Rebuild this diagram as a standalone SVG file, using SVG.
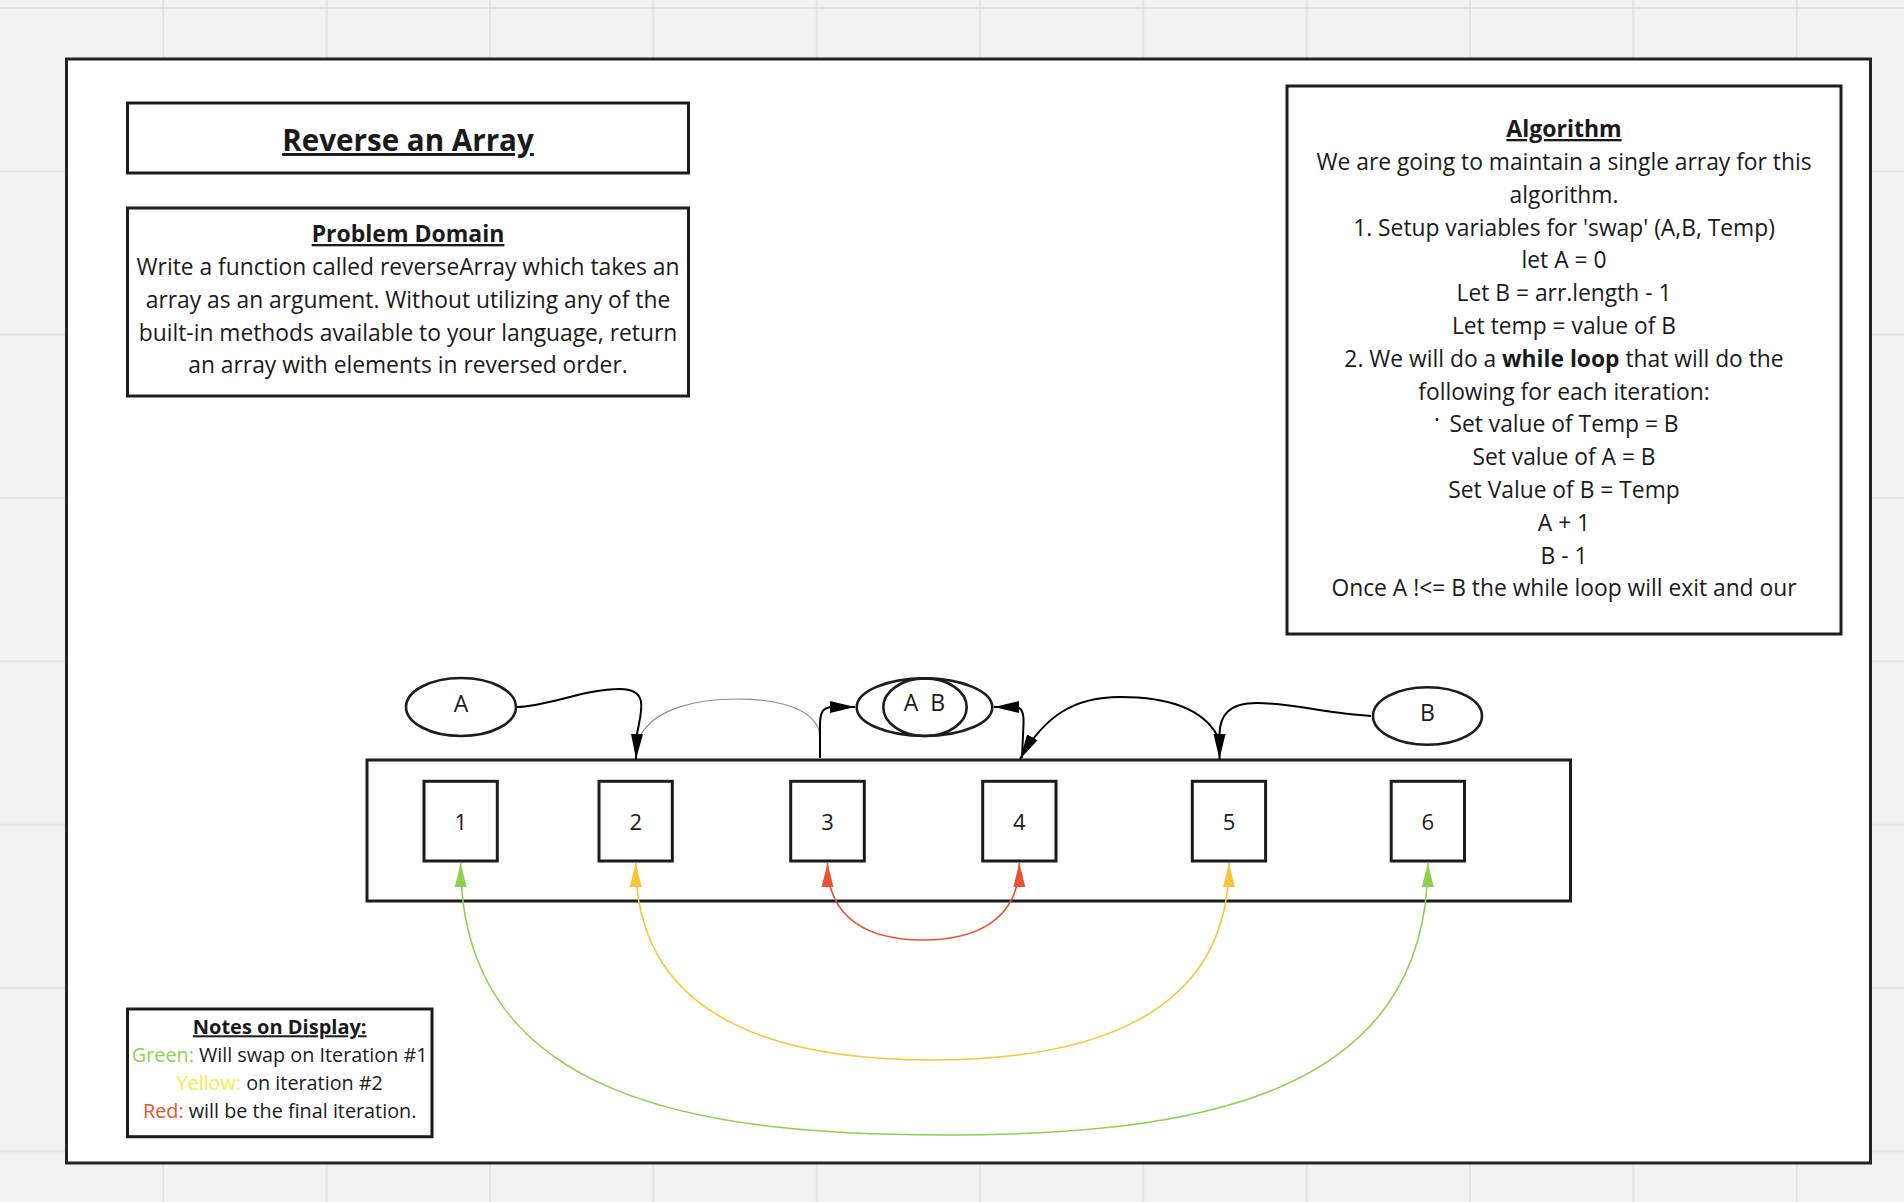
<svg xmlns="http://www.w3.org/2000/svg" width="1904" height="1202" viewBox="0 0 1904 1202">
  <style>
    .bg { fill: #f2f2f2; }
    .grid { stroke: #e3e3e3; stroke-width: 2; fill: none; }
    .frame { fill: #ffffff; stroke: #222222; stroke-width: 3; }
    .box { fill: #ffffff; stroke: #1c1c1c; stroke-width: 3; }
    .oval { fill: #ffffff; stroke: #1c1c1c; stroke-width: 2.6; }
    .oval-in { fill: none; stroke: #1c1c1c; stroke-width: 2.6; }
    .t { font-family: "Open Sans", "Liberation Sans", sans-serif; fill: #1a1a1a; text-anchor: middle; }
    .body { font-size: 22.8px; }
    .head { font-size: 23px; font-weight: 700; text-decoration: underline; }
    .title { font-size: 29.6px; font-weight: 700; text-decoration: underline; }
    .note { font-size: 19.8px; }
    .note-head { font-size: 20px; font-weight: 700; text-decoration: underline; }
    .cell { font-size: 22px; }
    .var { font-size: 23px; }
    .conn { fill: none; stroke: #000000; stroke-width: 2; }
    .thin { fill: none; stroke: #8a8a8a; stroke-width: 1.2; }
    .swap { fill: none; stroke-width: 1.6; }
    .green { stroke: #8fd14f; }
    .yellow { stroke: #f7c63a; }
    .red { stroke: #e9532f; }
  </style>
  <defs>
    <marker id="arrow" markerUnits="userSpaceOnUse" markerWidth="26" markerHeight="14" refX="25" refY="6" orient="auto-start-reverse" viewBox="0 0 26 12">
      <path d="M0,0 L25,6 L0,12 Z" fill="#000000"/>
    </marker>
    <marker id="arrow-green" markerUnits="userSpaceOnUse" markerWidth="26" markerHeight="14" refX="24" refY="6" orient="auto-start-reverse" viewBox="0 0 26 12">
      <path d="M0,0 L24,6 L0,12 Z" fill="#8fd14f"/>
    </marker>
    <marker id="arrow-yellow" markerUnits="userSpaceOnUse" markerWidth="26" markerHeight="14" refX="24" refY="6" orient="auto-start-reverse" viewBox="0 0 26 12">
      <path d="M0,0 L24,6 L0,12 Z" fill="#f7c63a"/>
    </marker>
    <marker id="arrow-red" markerUnits="userSpaceOnUse" markerWidth="26" markerHeight="14" refX="24" refY="6" orient="auto-start-reverse" viewBox="0 0 26 12">
      <path d="M0,0 L24,6 L0,12 Z" fill="#e9532f"/>
    </marker>
  </defs>

  <!-- canvas and board grid -->
  <rect class="bg" x="0" y="0" width="1904" height="1202"/>
  <path class="grid" d="M163.3,0V1202 M326.7,0V1202 M490,0V1202 M653.3,0V1202 M816.7,0V1202 M980,0V1202 M1143.3,0V1202 M1306.7,0V1202 M1470,0V1202 M1633.3,0V1202 M1796.7,0V1202 M0,8H1904 M0,171.3H1904 M0,334.7H1904 M0,498H1904 M0,661.3H1904 M0,824.7H1904 M0,988H1904 M0,1151.3H1904"/>

  <!-- outer frame -->
  <rect class="frame" x="66.5" y="59" width="1804" height="1104"/>

  <!-- title -->
  <g id="title">
    <rect class="box" x="127.5" y="103" width="561" height="70"/>
    <text class="t title" x="408" y="151">Reverse an Array</text>
  </g>

  <!-- problem statement -->
  <g id="problem-domain">
    <rect class="box" x="127.5" y="208" width="561" height="188"/>
    <text class="t head" x="408" y="242">Problem Domain</text>
    <text class="t body" x="408" y="275">Write a function called reverseArray which takes an</text>
    <text class="t body" x="408" y="307.8">array as an argument. Without utilizing any of the</text>
    <text class="t body" x="408" y="340.6">built-in methods available to your language, return</text>
    <text class="t body" x="408" y="373.4">an array with elements in reversed order.</text>
  </g>

  <!-- algorithm steps -->
  <g id="algorithm">
    <rect class="box" x="1287" y="86" width="554" height="548"/>
    <text class="t head" x="1564" y="137">Algorithm</text>
    <text class="t body" x="1564" y="170">We are going to maintain a single array for this</text>
    <text class="t body" x="1564" y="202.8">algorithm.</text>
    <text class="t body" x="1564" y="235.6">1. Setup variables for 'swap' (A,B, Temp)</text>
    <text class="t body" x="1564" y="268.4">let A = 0</text>
    <text class="t body" x="1564" y="301.2">Let B = arr.length - 1</text>
    <text class="t body" x="1564" y="334">Let temp = value of B</text>
    <text class="t body" x="1564" y="366.8">2. We will do a <tspan font-weight="700">while loop</tspan> that will do the</text>
    <text class="t body" x="1564" y="399.6">following for each iteration:</text>
    <text class="t body" x="1437" y="428" font-size="18">·</text>
    <text class="t body" x="1564" y="432.4">Set value of Temp = B</text>
    <text class="t body" x="1564" y="465.2">Set value of A = B</text>
    <text class="t body" x="1564" y="498">Set Value of B = Temp</text>
    <text class="t body" x="1564" y="530.8">A + 1</text>
    <text class="t body" x="1564" y="563.6">B - 1</text>
    <text class="t body" x="1564" y="596.4">Once A !&lt;= B the while loop will exit and our</text>
  </g>

  <!-- array container and its cells -->
  <g id="array">
    <rect class="box" x="367" y="760" width="1203.5" height="141"/>
  </g>
  <g id="cell-1">
    <rect class="box" x="424" y="781.3" width="73.3" height="79.7"/>
    <text class="t cell" x="460.7" y="830">1</text>
  </g>
  <g id="cell-2">
    <rect class="box" x="599" y="781.3" width="73.3" height="79.7"/>
    <text class="t cell" x="635.7" y="830">2</text>
  </g>
  <g id="cell-3">
    <rect class="box" x="790.7" y="781.3" width="73.6" height="79.7"/>
    <text class="t cell" x="827.5" y="830">3</text>
  </g>
  <g id="cell-4">
    <rect class="box" x="982.7" y="781.3" width="73.3" height="79.7"/>
    <text class="t cell" x="1019.3" y="830">4</text>
  </g>
  <g id="cell-5">
    <rect class="box" x="1192.3" y="781.3" width="73.3" height="79.7"/>
    <text class="t cell" x="1229" y="830">5</text>
  </g>
  <g id="cell-6">
    <rect class="box" x="1391.2" y="781.3" width="73.3" height="79.7"/>
    <text class="t cell" x="1427.8" y="830">6</text>
  </g>

  <!-- pointer variables -->
  <g id="pointer-a">
    <ellipse class="oval" cx="461" cy="707" rx="55" ry="29"/>
    <text class="t var" x="461" y="711.7">A</text>
  </g>
  <g id="pointer-ab">
    <ellipse class="oval" cx="924.5" cy="707.2" rx="67.8" ry="28.8"/>
    <ellipse class="oval-in" cx="925" cy="707.2" rx="41.7" ry="28.8"/>
    <text class="t var" x="924.5" y="710.7" word-spacing="6">A B</text>
  </g>
  <g id="pointer-b">
    <ellipse class="oval" cx="1427.5" cy="716" rx="54.5" ry="28.8"/>
    <text class="t var" x="1427.5" y="721">B</text>
  </g>

  <!-- connectors -->
  <g id="connectors">
    <path class="thin" d="M640.7,735 C655,710 692,699 737,699 C782,699 812,710 819,730 L820,740"/>
    <path class="conn" marker-end="url(#arrow)" d="M517,707 C545,707 585,689 620,689 C650,689 641,712 637,734 L636,759"/>
    <path class="conn" marker-end="url(#arrow)" d="M820,758 L820,725 C820,712 823,707 833,707 L855,707"/>
    <path class="conn" marker-end="url(#arrow)" d="M1022,758 L1023.5,724 C1024,712 1021,707 1016,707 L994,707"/>
    <path class="conn" marker-end="url(#arrow)" d="M1217,735 C1200,705 1160,697 1120,697 C1075,697 1045,715 1020,759"/>
    <path class="conn" marker-end="url(#arrow)" d="M1371,716 C1330,714 1290,703 1257,703 C1228,703 1220,716 1219.5,734 L1219.5,759"/>

    <path class="swap green" marker-start="url(#arrow-green)" marker-end="url(#arrow-green)" d="M460.7,863 C460.7,1100 700,1135 944,1135 C1190,1135 1427.8,1100 1427.8,863"/>
    <path class="swap yellow" marker-start="url(#arrow-yellow)" marker-end="url(#arrow-yellow)" d="M635.7,863 C635.7,1020 780,1060 932,1060 C1084,1060 1229,1020 1229,863"/>
    <path class="swap red" marker-start="url(#arrow-red)" marker-end="url(#arrow-red)" d="M827.5,863 C827.5,920 870,940 923,940 C976,940 1019.3,920 1019.3,863"/>
  </g>

  <!-- legend -->
  <g id="notes">
    <rect class="box" x="127.5" y="1009" width="304.5" height="127.7"/>
    <text class="t note-head" x="279.7" y="1034.3">Notes on Display:</text>
    <text class="t note" x="279.7" y="1062"><tspan fill="#8fd14f">Green:</tspan> Will swap on Iteration #1</text>
    <text class="t note" x="279.7" y="1090"><tspan fill="#fbe94a">Yellow:</tspan> on iteration #2</text>
    <text class="t note" x="279.7" y="1118"><tspan fill="#e9532f">Red:</tspan> will be the final iteration.</text>
  </g>
</svg>
